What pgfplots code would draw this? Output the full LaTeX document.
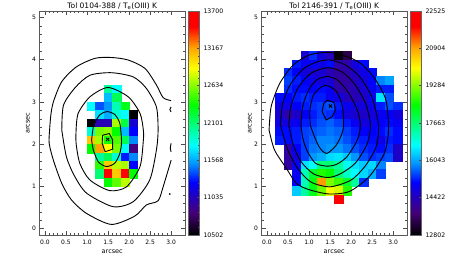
\documentclass[border=0pt]{standalone}
\usepackage{fontspec}
\setmainfont{DejaVu Sans}
\usepackage{pgfplots}
\pgfplotsset{compat=1.18}
\pgfplotsset{
  /pgf/number format/assume math mode=true,
  colormap={idlrain}{rgb255(0pt)=(0,0,0); rgb255(10pt)=(70,0,120); rgb255(23.5pt)=(0,0,255); rgb255(32pt)=(0,150,255); rgb255(40pt)=(0,255,255); rgb255(49pt)=(0,255,128); rgb255(58pt)=(0,255,0); rgb255(74.5pt)=(255,255,0); rgb255(83.5pt)=(255,165,0); rgb255(93pt)=(255,0,0); rgb255(100pt)=(255,0,0)},
  panel/.style={
    scale only axis, width=145.5pt, height=224pt, anchor=south west,
    clip mode=individual,
    xmin=-0.13, xmax=3.33, ymin=-0.15, ymax=5.15,
    xtick={0,0.5,1,1.5,2,2.5,3}, ytick={0,1,2,3,4,5},
    minor x tick num=4, minor y tick num=4,
    tick align=inside, tick pos=both,
    major tick length=4.5pt, minor tick length=2.5pt,
    axis line style={black!65,line width=0.7pt},
    tick style={black!70,line width=0.5pt},
    xticklabel style={font=\fontsize{6}{7}\selectfont,yshift=-1.5pt,/pgf/number format/.cd,fixed,fixed zerofill,precision=1},
    yticklabel style={font=\fontsize{6}{7}\selectfont,/pgf/number format/.cd,fixed,precision=0},
    xlabel={arcsec}, ylabel={arcsec},
    label style={font=\fontsize{6.5}{7}\selectfont},
    xlabel style={at={(0.5,0)},anchor=north,yshift=-14.5pt,inner sep=0pt},
    ylabel style={at={(0,0.5)},anchor=south,yshift=9.5pt,inner sep=0pt},
    title style={at={(0.5,1)},anchor=south,yshift=-4.5pt,inner sep=0pt,font=\fontsize{7.5}{8}\selectfont},
    colorbar,
  },
  barst/.style={
    at={(1.0206,1)},anchor=north west,width=11.5pt,
    axis line style={black!60,line width=0.5pt},
    tick style={black!70,line width=0.4pt},
    major tick length=2.5pt,minor tick length=1.5pt,
    minor y tick num=4,
    ytick pos=right,yticklabel pos=right,
    scaled y ticks=false,
    yticklabel style={font=\fontsize{6.2}{7}\selectfont,xshift=0.5pt,/pgf/number format/.cd,fixed,precision=0,1000 sep={}},
  },
  cellpl/.style={scatter,only marks,scatter src=explicit,mark=square*,mark size=4.22pt,
    scatter/use mapped color={draw=mapped color,fill=mapped color},line width=0.1pt},
  cont/.style={black,line width=0.9pt,smooth,tension=0.45,no marks},
}
\begin{document}
\begin{tikzpicture}
\useasboundingbox (0,0) rectangle (458pt,260pt);
% ---------- left panel
\begin{axis}[panel,at={(39.5pt,25pt)},
  title={Tol 0104-388 / T\textsubscript{e}(OIII) K},
  point meta min=10502,point meta max=13700,
  colorbar style={barst,ytick={10502,11035,11568,12101,12634,13167,13700}}]
\addplot[cellpl] table[meta=c]{
x y c
1.5 3.3 12005
1.7 3.3 11781
1.5 3.1 11620
1.7 3.1 12165
1.1 2.9 11781
1.3 2.9 11400
1.5 2.9 11525
1.7 2.9 11950
1.9 2.9 12300
1.3 2.7 11710
1.5 2.7 11580
1.7 2.7 11880
1.9 2.7 11781
2.1 2.7 10502
1.1 2.5 10502
1.3 2.5 11014
1.5 2.5 11014
1.7 2.5 12700
1.9 2.5 12200
2.1 2.5 11110
1.1 2.3 11877
1.3 2.3 12600
1.5 2.3 12650
1.7 2.3 12357
1.9 2.3 11620
2.1 2.3 11254
1.1 2.1 13060
1.3 2.1 12700
1.5 2.1 12400
1.7 2.1 12517
1.9 2.1 12165
2.1 2.1 11500
1.1 1.9 12357
1.3 1.9 13172
1.5 1.9 12884
1.7 1.9 12600
1.9 1.9 11800
2.1 1.9 10854
1.3 1.7 12005
1.5 1.7 12165
1.7 1.7 11877
1.9 1.7 11300
2.1 1.7 11500
1.3 1.5 12450
1.5 1.5 13060
1.7 1.5 12750
1.9 1.5 12709
2.1 1.5 11254
1.3 1.3 12100
1.5 1.3 13540
1.7 1.3 13060
1.9 1.3 13540
2.1 1.3 12357
1.5 1.1 12357
1.7 1.1 12550
1.9 1.1 12750
};
\addplot[cont] coordinates {(3.0,3.03)(2.81,3.10)(2.65,3.40)(2.38,3.79)(1.98,3.99)(1.58,4.05)(1.19,4.03)(.75,3.83)(.40,3.48)(.20,3.0)(.14,2.69)(.11,2.33)(.10,2.02)(.20,1.62)(.40,1.07)(.63,.68)(.99,.36)(1.58,.10)(2.14,.30)(2.41,.56)(2.69,.66)(2.81,.99)(3.0,1.62)};
\addplot[cont] coordinates {(3.0,2.88)(2.97,2.82)(3.0,2.76)};
\addplot[cont] coordinates {(3.0,2.02)(2.98,1.90)(3.0,1.82)};
\addplot[only marks,mark=*,mark size=0.6pt,black] coordinates {(2.97,.82)};
\addplot[cont] coordinates {(.40,2.33)(.44,2.92)(.72,3.34)(1.07,3.63)(1.58,3.69)(2.10,3.59)(2.41,3.32)(2.65,2.88)(2.69,2.33)(2.65,1.86)(2.49,1.15)(2.10,.64)(1.62,.52)(.99,.84)(.70,1.25)(.51,1.70)(.40,2.33)};
\addplot[cont] coordinates {(.74,2.33)(.79,2.73)(1.07,3.12)(1.5,3.34)(1.98,3.12)(2.26,2.73)(2.34,2.33)(2.34,2.10)(2.26,1.47)(1.94,.99)(1.54,.90)(1.07,1.15)(.83,1.54)(.74,2.02)(.74,2.33)};
\addplot[cont] coordinates {(1.11,2.1)(1.16,2.45)(1.31,2.70)(1.48,2.77)(1.66,2.70)(1.78,2.49)(1.82,2.06)(1.78,1.78)(1.66,1.55)(1.46,1.47)(1.27,1.58)(1.15,1.86)(1.11,2.1)};
\addplot[black,line width=0.9pt,no marks] coordinates {(1.37,2.21)(1.53,2.25)(1.61,2.10)(1.61,1.88)(1.43,1.82)(1.36,2.02)(1.37,2.21)};
\addplot[only marks,mark=x,mark size=2.2pt,black,mark options={line width=0.9pt}] coordinates {(1.49,2.11)};
\end{axis}
% ---------- right panel
\begin{axis}[panel,at={(261.5pt,25pt)},
  title={Tol 2146-391 / T\textsubscript{e}(OIII) K},
  point meta min=12802,point meta max=22525,
  colorbar style={barst,ytick={12802,14422,16043,17663,19284,20904,22525}}]
\addplot[cellpl] table[meta=c]{
x y c
.9 4.1 14650
1.1 4.1 15330
1.3 4.1 14750
1.5 4.1 14455
1.7 4.1 12900
1.9 4.1 13385
.7 3.9 15233
.9 3.9 14941
1.1 3.9 15038
1.3 3.9 14844
1.5 3.9 15136
1.7 3.9 14260
1.9 3.9 14260
2.1 3.9 14747
2.3 3.9 15136
.5 3.7 15330
.7 3.7 15087
.9 3.7 14747
1.1 3.7 14650
1.3 3.7 14650
1.5 3.7 14358
1.7 3.7 14163
1.9 3.7 14260
2.1 3.7 14552
2.3 3.7 14844
2.5 3.7 15136
.5 3.5 15427
.7 3.5 15233
.9 3.5 15038
1.1 3.5 14844
1.3 3.5 14747
1.5 3.5 14650
1.7 3.5 14163
1.9 3.5 14163
2.1 3.5 14455
2.3 3.5 14747
2.5 3.5 15087
2.7 3.5 15816
2.9 3.5 16011
.5 3.3 15330
.7 3.3 15136
.9 3.3 15136
1.1 3.3 15038
1.3 3.3 15136
1.5 3.3 14941
1.7 3.3 14260
1.9 3.3 14260
2.1 3.3 14358
2.3 3.3 14650
2.5 3.3 14941
2.7 3.3 15233
2.9 3.3 15233
.3 3.1 15136
.5 3.1 15087
.7 3.1 15233
.9 3.1 15330
1.1 3.1 15233
1.3 3.1 15233
1.5 3.1 14941
1.7 3.1 14844
1.9 3.1 14455
2.1 3.1 14358
2.3 3.1 14552
2.5 3.1 14941
2.7 3.1 16497
2.9 3.1 15524
.3 2.9 14844
.5 2.9 14844
.7 2.9 15038
.9 2.9 15233
1.1 2.9 15330
1.3 2.9 15427
1.5 2.9 15524
1.7 2.9 15233
1.9 2.9 14941
2.1 2.9 14747
2.3 2.9 14747
2.5 2.9 14844
2.7 2.9 15233
2.9 2.9 15524
3.1 2.9 15330
.3 2.7 14650
.5 2.7 14260
.7 2.7 14552
.9 2.7 15038
1.1 2.7 15233
1.3 2.7 15427
1.5 2.7 15330
1.7 2.7 15136
1.9 2.7 14747
2.1 2.7 14650
2.3 2.7 14552
2.5 2.7 14747
2.7 2.7 14941
2.9 2.7 15038
3.1 2.7 14747
.3 2.5 14844
.5 2.5 14747
.7 2.5 14941
.9 2.5 15233
1.1 2.5 15330
1.3 2.5 15524
1.5 2.5 15622
1.7 2.5 15427
1.9 2.5 15233
2.1 2.5 14941
2.3 2.5 14747
2.5 2.5 14941
2.7 2.5 15038
2.9 2.5 15136
3.1 2.5 14941
.3 2.3 15136
.5 2.3 15136
.7 2.3 15233
.9 2.3 15427
1.1 2.3 15524
1.3 2.3 15622
1.5 2.3 15719
1.7 2.3 15622
1.9 2.3 15427
2.1 2.3 15233
2.3 2.3 15038
2.5 2.3 15038
2.7 2.3 15136
2.9 2.3 15330
3.1 2.3 15136
.3 2.1 15233
.5 2.1 15136
.7 2.1 15233
.9 2.1 15427
1.1 2.1 15622
1.3 2.1 15816
1.5 2.1 15816
1.7 2.1 15719
1.9 2.1 15524
2.1 2.1 15330
2.3 2.1 15233
2.5 2.1 15136
2.7 2.1 14844
2.9 2.1 15233
3.1 2.1 15136
.5 1.9 14260
.7 1.9 15038
.9 1.9 15427
1.1 1.9 15719
1.3 1.9 15816
1.5 1.9 15913
1.7 1.9 15913
1.9 1.9 15719
2.1 1.9 15524
2.3 1.9 15330
2.5 1.9 15233
2.7 1.9 15136
2.9 1.9 15330
3.1 1.9 14552
.5 1.7 14163
.7 1.7 14747
.9 1.7 15427
1.1 1.7 15913
1.3 1.7 16108
1.5 1.7 16400
1.7 1.7 16497
1.9 1.7 16302
2.1 1.7 15913
2.3 1.7 15524
2.5 1.7 15330
2.7 1.7 15427
2.9 1.7 15524
3.1 1.7 14552
.5 1.5 14163
.7 1.5 14941
.9 1.5 16497
1.1 1.5 16691
1.3 1.5 17664
1.5 1.5 17664
1.7 1.5 17372
1.9 1.5 16788
2.1 1.5 16497
2.3 1.5 16302
2.5 1.5 16400
2.7 1.5 15816
.7 1.3 14941
.9 1.3 17177
1.1 1.3 18150
1.3 1.3 18636
1.5 1.3 18441
1.7 1.3 17664
1.9 1.3 17080
2.1 1.3 16691
2.3 1.3 16400
2.5 1.3 16108
2.7 1.3 15427
.7 1.1 15087
.9 1.1 17177
1.1 1.1 18344
1.3 1.1 20969
1.5 1.1 19219
1.7 1.1 18830
1.9 1.1 18150
2.1 1.1 17372
2.3 1.1 15330
.7 .9 16302
.9 .9 17372
1.1 .9 18247
1.3 .9 19122
1.5 .9 19997
1.7 .9 19803
1.9 .9 18636
1.7 .7 22525
};
\addplot[cont] coordinates {(0.05,2.33)(0.10,2.89)(0.30,3.43)(.62,3.87)(1.01,4.11)(1.48,4.17)(1.96,4.05)(2.28,3.87)(2.59,3.51)(2.83,3.04)(2.89,2.33)(2.79,1.78)(2.43,1.23)(1.96,.88)(1.48,.82)(1.01,.92)(.70,1.07)(.46,1.43)(.18,1.86)(.05,2.33)};
\addplot[cont] coordinates {(.32,2.45)(.37,2.95)(.55,3.4)(.85,3.77)(1.2,3.95)(1.5,3.99)(1.85,3.88)(2.2,3.6)(2.5,3.1)(2.65,2.45)(2.6,1.95)(2.35,1.5)(2,1.15)(1.5,.99)(1.05,1.1)(.75,1.4)(.5,1.85)(.32,2.45)};
\addplot[cont] coordinates {(.52,2.45)(.57,2.9)(.75,3.35)(1.05,3.68)(1.45,3.81)(1.8,3.7)(2.1,3.4)(2.35,2.95)(2.46,2.45)(2.38,2.0)(2.1,1.55)(1.75,1.3)(1.45,1.21)(1.1,1.3)(.8,1.6)(.62,2.0)(.52,2.45)};
\addplot[cont] coordinates {(.81,2.45)(.85,2.9)(1.0,3.3)(1.2,3.53)(1.45,3.6)(1.7,3.5)(1.95,3.2)(2.15,2.8)(2.22,2.45)(2.15,2.1)(1.9,1.7)(1.65,1.52)(1.42,1.48)(1.15,1.55)(.95,1.85)(.85,2.15)(.81,2.45)};
\addplot[cont] coordinates {(1.03,2.45)(1.02,2.8)(1.1,3.15)(1.3,3.36)(1.45,3.38)(1.65,3.25)(1.78,2.95)(1.82,2.6)(1.8,2.3)(1.65,1.98)(1.42,1.78)(1.25,1.92)(1.12,2.2)(1.03,2.45)};
\addplot[black,line width=0.9pt,no marks] coordinates {(1.43,3.04)(1.59,2.99)(1.63,2.81)(1.55,2.65)(1.41,2.57)(1.31,2.77)(1.35,2.96)(1.43,3.04)};
\addplot[only marks,mark=x,mark size=2.2pt,black,mark options={line width=0.9pt}] coordinates {(1.51,2.90)};
\end{axis}
\end{tikzpicture}
\end{document}
